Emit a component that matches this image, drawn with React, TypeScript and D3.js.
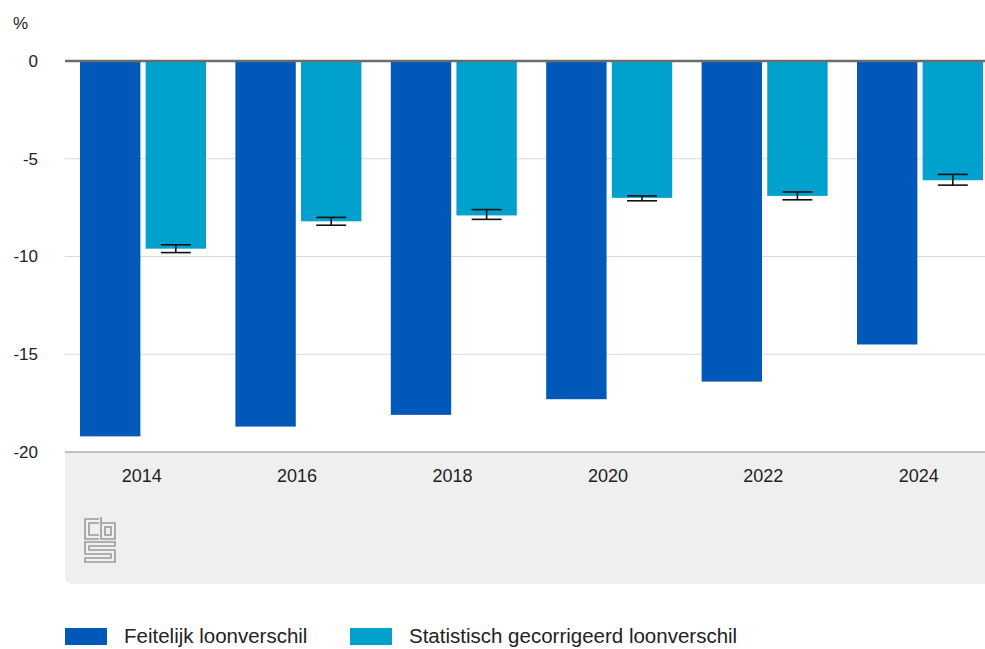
import React from "react";
import * as d3 from "d3";

const years = ["2014", "2016", "2018", "2020", "2022", "2024"];
const feitelijk = [-19.2, -18.7, -18.1, -17.3, -16.4, -14.5];
const gecorrigeerd = [-9.6, -8.2, -7.9, -7.0, -6.9, -6.1];
const errLow = [-9.8, -8.4, -8.1, -7.15, -7.1, -6.35];
const errHigh = [-9.4, -8.0, -7.6, -6.9, -6.7, -5.8];
const yTicks = [0, -5, -10, -15, -20];
const seriesNames = ["Feitelijk loonverschil", "Statistisch gecorrigeerd loonverschil"];
const colors = ["#0058b8", "#00a1cd"];

const W = 985;
const H = 649;
const left = 65;
const top = 61;
const bottom = 452;

export default function App() {
  const y = d3.scaleLinear().domain([0, -20]).range([top, bottom]);
  const x0 = d3.scaleBand().domain(years).range([left, left + 6 * 155.4]).padding(0);
  const x1 = d3
    .scaleBand()
    .domain(["f", "s"])
    .range([15, 141])
    .paddingInner(0.08)
    .paddingOuter(0);
  const font = "Arial, 'Liberation Sans', sans-serif";

  return (
    <svg
      width={W}
      height={H}
      style={{ position: "absolute", left: 0, top: 0, display: "block" }}
      fontFamily={font}
    >
      <rect x={0} y={0} width={W} height={H} fill="#fff" />
      {/* grey footer area */}
      <path
        d={`M${left},${bottom} H${W + 10} V584 H${left + 8} Q${left},584 ${left},576 Z`}
        fill="#efefef"
      />
      {/* gridlines */}
      {yTicks.map((t) => (
        <line
          key={"g" + t}
          x1={left}
          x2={W}
          y1={y(t)}
          y2={y(t)}
          stroke={t === -20 ? "#8a8a8a" : "#d9d9d9"}
          strokeWidth={1}
        />
      ))}
      {/* y tick labels */}
      {yTicks.map((t) => (
        <text
          key={"t" + t}
          x={38}
          y={y(t)}
          dy="0.35em"
          textAnchor="end"
          fontSize={17}
          fill="#222"
        >
          {t}
        </text>
      ))}
      <text x={13} y={23} dy="0.35em" fontSize={17} fill="#222">
        %
      </text>
      {/* bars */}
      {years.map((yr, i) => {
        const gx = x0(yr)!;
        const fx = gx + x1("f")!;
        const sx = gx + x1("s")!;
        const bw = x1.bandwidth();
        const cx = sx + bw / 2;
        return (
          <g key={yr}>
            <rect x={fx} y={y(0)} width={bw} height={y(feitelijk[i]) - y(0)} fill={colors[0]} />
            <rect x={sx} y={y(0)} width={bw} height={y(gecorrigeerd[i]) - y(0)} fill={colors[1]} />
            <g stroke="#111" strokeWidth={1.6}>
              <line x1={cx} x2={cx} y1={y(errHigh[i])} y2={y(errLow[i])} />
              <line x1={cx - 15} x2={cx + 15} y1={y(errHigh[i])} y2={y(errHigh[i])} />
              <line x1={cx - 15} x2={cx + 15} y1={y(errLow[i])} y2={y(errLow[i])} />
            </g>
            <text
              x={gx + x0.bandwidth() / 2 - 1}
              y={476}
              dy="0.35em"
              textAnchor="middle"
              fontSize={18}
              fill="#222"
            >
              {yr}
            </text>
          </g>
        );
      })}
      {/* zero line */}
      <line x1={left} x2={W} y1={y(0)} y2={y(0)} stroke="#6b6b6b" strokeWidth={2.5} />
      {/* cbs logo */}
      <g fill="none" stroke="#9a9a9a" strokeWidth={1.6}>
        <path d="M99,519 H85 V539 H99" />
        <path d="M99,523 H89 V535 H99" />
        <path d="M101,517 V539 H115 V523 H101" />
        <rect x={105} y={527} width={6} height={8} />
        <path d="M115,542 H85 V554 H111 V558 H85 V562 H115 V550 H89 V546 H115 Z" />
      </g>
      {/* legend */}
      {seriesNames.map((n, i) => {
        const lx = i === 0 ? 65 : 350;
        return (
          <g key={n}>
            <rect x={lx} y={628} width={42} height={17} fill={colors[i]} />
            <text x={lx + 59} y={636} dy="0.35em" fontSize={20.5} fill="#222">
              {n}
            </text>
          </g>
        );
      })}
    </svg>
  );
}
